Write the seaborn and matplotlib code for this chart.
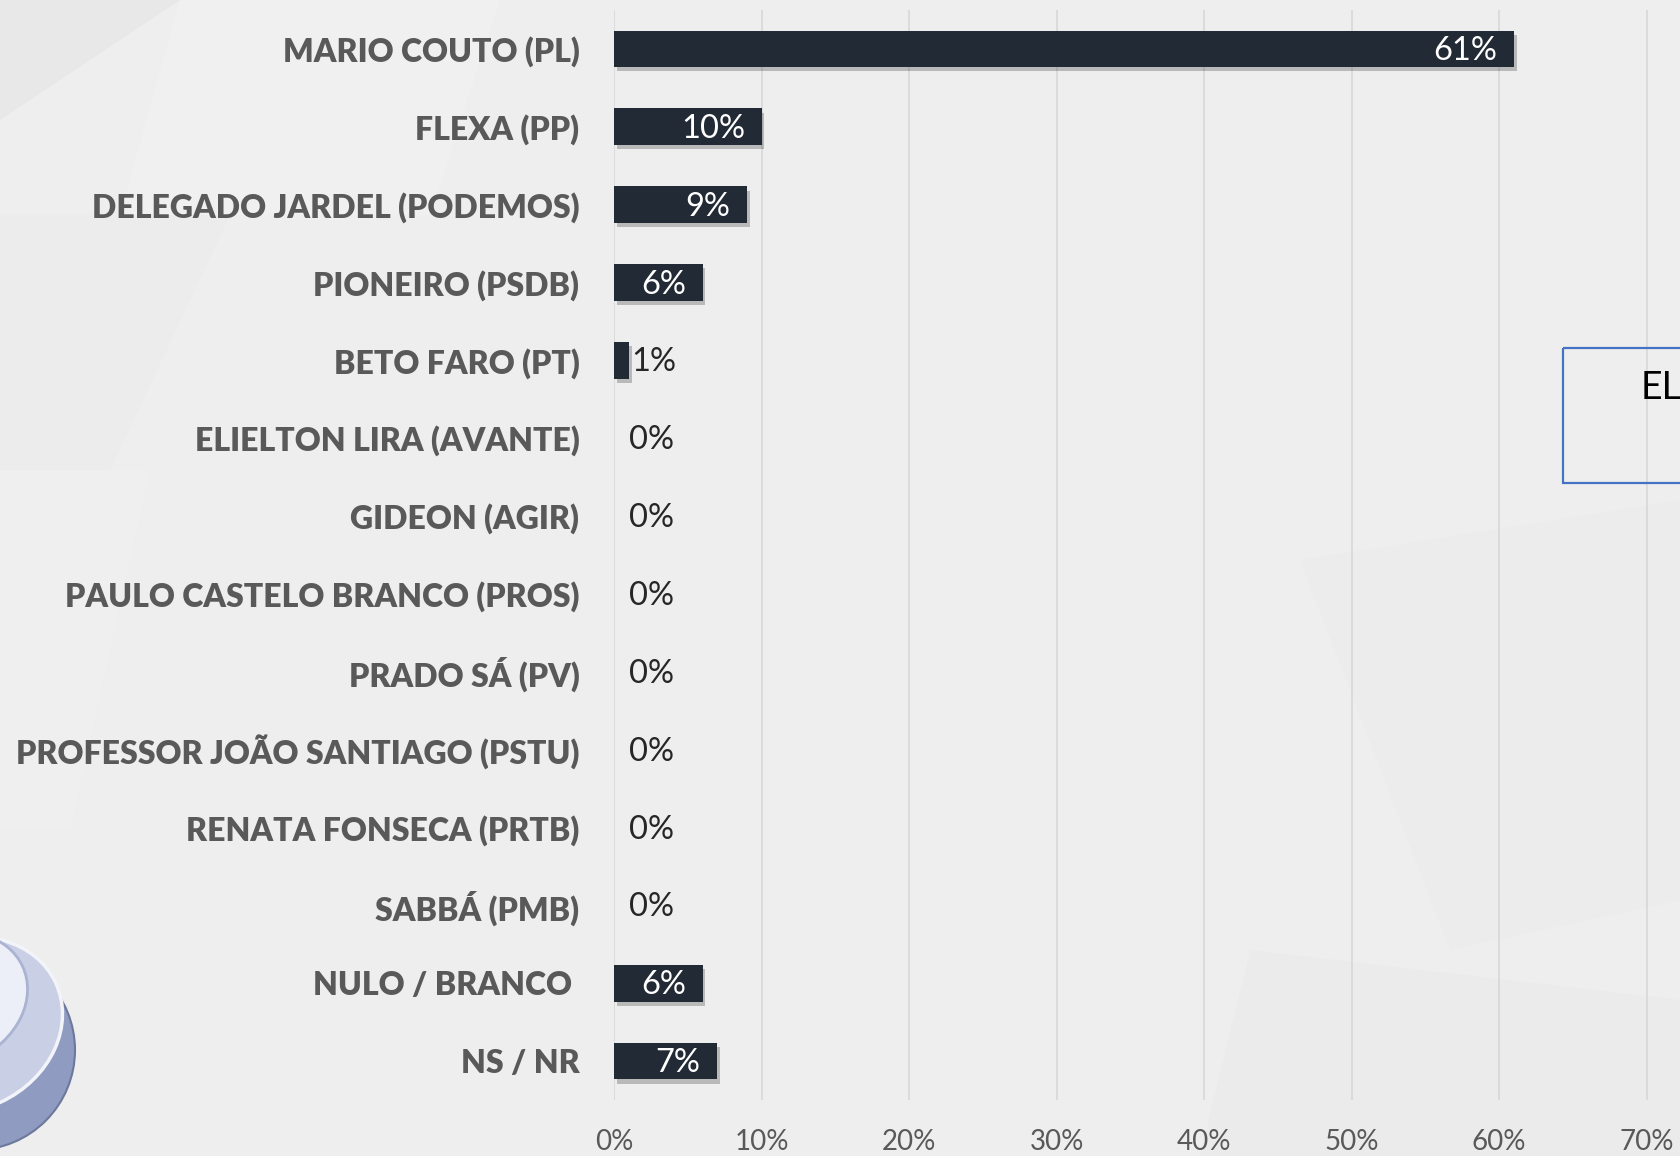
import matplotlib
matplotlib.use("Agg")
import matplotlib.pyplot as plt
import matplotlib.patheffects as pe
from matplotlib.patches import Rectangle, Circle, Ellipse, Polygon
import seaborn as sns
import pandas as pd

# ---- data ----
candidates = [
    "MARIO COUTO (PL)",
    "FLEXA (PP)",
    "DELEGADO JARDEL (PODEMOS)",
    "PIONEIRO (PSDB)",
    "BETO FARO (PT)",
    "ELIELTON LIRA (AVANTE)",
    "GIDEON (AGIR)",
    "PAULO CASTELO BRANCO (PROS)",
    "PRADO SÁ (PV)",
    "PROFESSOR JOÃO SANTIAGO (PSTU)",
    "RENATA FONSECA (PRTB)",
    "SABBÁ (PMB)",
    "NULO / BRANCO ",
    "NS / NR",
]
percent = [61, 10, 9, 6, 1, 0, 0, 0, 0, 0, 0, 0, 6, 7]
x_ticks = [0, 10, 20, 30, 40, 50, 60, 70]
x_tick_labels = ["0%", "10%", "20%", "30%", "40%", "50%", "60%", "70%"]
box_text = "EL"

df = pd.DataFrame({"candidate": candidates, "percent": percent})

sns.set_theme(style="white")
plt.rcParams["font.family"] = ["Lato", "DejaVu Sans"]

W, H = 1681, 1156
fig = plt.figure(figsize=(W / 100, H / 100), dpi=100)
bg = "#eeeeee"
fig.patch.set_facecolor(bg)

# subtle background texture (decorative)
deco = fig.add_axes([0, 0, 1, 1], zorder=-5)
deco.set_xlim(0, W)
deco.set_ylim(H, 0)
deco.axis("off")
shapes = [
    ([(0, 0), (180, 0), (0, 120)], "#e4e4e4"),
    ([(180, 0), (500, 0), (430, 215), (120, 215)], "#f3f3f3"),
    ([(0, 215), (230, 215), (110, 470), (0, 470)], "#ebebeb"),
    ([(0, 470), (150, 470), (70, 830), (0, 830)], "#f1f1f1"),
    ([(1300, 560), (1681, 500), (1681, 900), (1450, 950)], "#ececec"),
    ([(1250, 950), (1681, 1000), (1681, 1156), (1200, 1156)], "#eaeaea"),
]
for pts, c in shapes:
    deco.add_patch(Polygon(pts, closed=True, facecolor=c, edgecolor="none", alpha=0.6))
# logo sphere (decorative)
deco.add_patch(Circle((-25, 1050), 100, facecolor="#8f9bc0", edgecolor="#6c789c", lw=1.5))
deco.add_patch(Ellipse((-35, 1025), 200, 170, angle=-25, facecolor="#c9cfe4", edgecolor="#f2f4fa", lw=2.5))
deco.add_patch(Ellipse((-50, 1000), 160, 130, angle=-25, facecolor="#eceff8", edgecolor="#aab3d2", lw=2))

left, right = 614 / W, 1649 / W
bottom, top = (H - 1100) / H, (H - 10) / H
ax = fig.add_axes([left, bottom, right - left, top - bottom])
ax.set_facecolor("none")

bar_color = "#222a35"
sns.barplot(data=df, x="percent", y="candidate", orient="h", color=bar_color,
            width=0.47, saturation=1, ax=ax, zorder=3, edgecolor="none", linewidth=0)
for p in ax.patches:
    p.set_edgecolor("none")
    p.set_linewidth(0)
    p.set_path_effects([pe.SimplePatchShadow(offset=(2, -3), shadow_rgbFace="#000000", alpha=0.22),
                        pe.Normal()])

ax.set_xlim(0, 70.15)
ax.set_ylim(len(candidates) - 0.5, -0.5)
ax.set_xticks(x_ticks)
ax.set_xticklabels(x_tick_labels)
ax.xaxis.grid(True, color="#d9d9d9", linewidth=1.3, zorder=0)
ax.yaxis.grid(False)
ax.set_axisbelow(True)
for s in ax.spines.values():
    s.set_visible(False)
ax.set_xlabel("")
ax.set_ylabel("")
ax.tick_params(axis="x", length=0, pad=21, labelsize=20, labelcolor="#595959")
ax.tick_params(axis="y", length=0, pad=25, labelsize=23, labelcolor="#595959")
for t in ax.get_yticklabels():
    t.set_fontweight("heavy")

for i, v in enumerate(percent):
    label = f"{v}%"
    if v >= 3:
        ax.annotate(label, xy=(v, i), xytext=(-12, -1.5), textcoords="offset points",
                    ha="right", va="center", color="white", fontsize=23.5, zorder=5)
    elif v > 0:
        ax.annotate(label, xy=(v, i), xytext=(2, -1.5), textcoords="offset points",
                    ha="left", va="center", color="#262626", fontsize=23.5, zorder=5)
    else:
        ax.annotate(label, xy=(v, i), xytext=(11, -1.5), textcoords="offset points",
                    ha="left", va="center", color="#262626", fontsize=23.5, zorder=5)

# blue framed box at the right (cropped in the reference)
deco2 = fig.add_axes([0, 0, 1, 1], zorder=10)
deco2.set_xlim(0, W)
deco2.set_ylim(H, 0)
deco2.axis("off")
deco2.add_patch(Rectangle((1563, 348), 200, 135, facecolor="none", edgecolor="#4472c4", lw=1.6))
deco2.text(1641, 388, box_text, ha="left", va="center", fontsize=27, color="#000000")

fig.savefig("out.png", dpi=100, facecolor=fig.get_facecolor())
